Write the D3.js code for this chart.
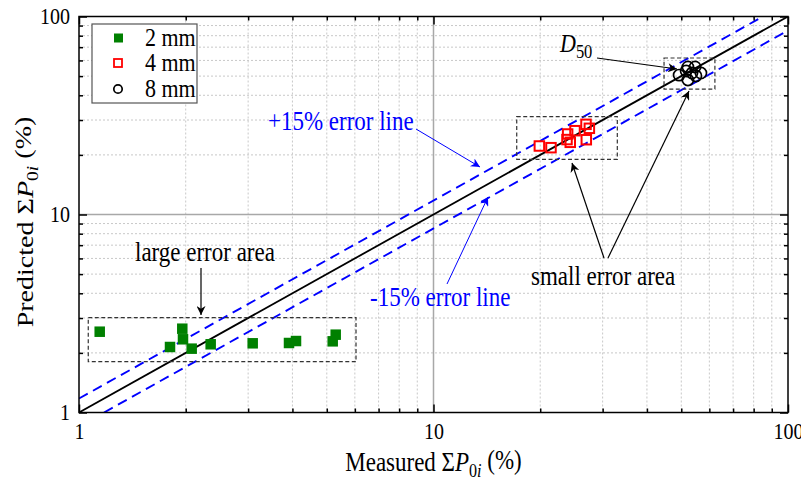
<!DOCTYPE html>
<html><head><meta charset="utf-8">
<script src="https://cdn.jsdelivr.net/npm/d3@7"></script>
<style>body{margin:0;background:#fff}svg{display:block}text{font-family:"Liberation Serif","Times New Roman",serif}</style>
</head><body>
<svg id="c" width="801" height="480"></svg>
<script>
// ---- data ----
const mm2X = [1.144, 1.956, 1.965, 1.806, 2.079, 2.352, 3.09, 3.912, 4.094, 5.196, 5.298];
const mm2Y = [2.559, 2.650, 2.343, 2.142, 2.101, 2.211, 2.236, 2.244, 2.296, 2.288, 2.472];
const mm4X = [19.89, 21.45, 23.9, 25.07, 24.31, 23.8, 26.93, 27.52, 26.98];
const mm4Y = [22.18, 21.75, 25.5, 26.5, 23.15, 23.9, 28.54, 27.25, 23.86];
const mm8X = [49.3, 51.6, 52.2, 52.2, 54.7, 55.0, 56.8, 53.6];
const mm8Y = [50.6, 53.1, 47.8, 55.6, 55.6, 50.1, 51.8, 51.8];
const majorTicks = [1, 10, 100];
const minorTicks = [2,3,4,5,6,7,8,9,20,30,40,50,60,70,80,90];
const errUpper = 1/0.85, errLower = 0.85;
const boxes = [ // [x0,x1,y0,y1]
  [1.062, 6.045, 1.805, 3.012],
  [17.17, 33.0, 19.0, 31.19],
  [44.7, 62.2, 43.0, 61.7]
];
const legendLabels = ["2 mm", "4 mm", "8 mm"];

const svg = d3.select("#c");
const L = 79, R = 788, T = 16.5, B = 412.5;
const ST = 1.15; // vertical stretch of glyphs as seen in the reference
const x = d3.scaleLog().domain([1,100]).range([L,R]);
const y = d3.scaleLog().domain([1,100]).range([B,T]);

const defs = svg.append("defs");
defs.append("clipPath").attr("id","clip").append("rect").attr("x",L).attr("y",T).attr("width",R-L).attr("height",B-T);
function mk(id,color){
  defs.append("marker").attr("id",id).attr("viewBox","0 0 10 10").attr("refX",10).attr("refY",5)
    .attr("markerWidth",14).attr("markerHeight",9).attr("markerUnits","userSpaceOnUse").attr("orient","auto")
    .append("path").attr("d","M0,0 L10,5 L0,10 L3,5 Z").attr("fill",color);
}
mk("ab","#000"); mk("abl","#0000ff");

function txt(px, py, size, color){
  return svg.append("text").attr("transform",`translate(${px},${py}) scale(1,${ST})`).attr("font-size",size).attr("fill",color||"#000");
}

// grid
const g = svg.append("g");
minorTicks.forEach(v=>{
  g.append("line").attr("x1",x(v)).attr("x2",x(v)).attr("y1",T).attr("y2",B).attr("stroke","#c8c8c8").attr("stroke-width",1).attr("stroke-dasharray","2,2");
  g.append("line").attr("y1",y(v)).attr("y2",y(v)).attr("x1",L).attr("x2",R).attr("stroke","#c8c8c8").attr("stroke-width",1).attr("stroke-dasharray","2,2");
});
g.append("line").attr("x1",x(10)).attr("x2",x(10)).attr("y1",T).attr("y2",B).attr("stroke","#a8a8a8").attr("stroke-width",1.5);
g.append("line").attr("y1",y(10)).attr("y2",y(10)).attr("x1",L).attr("x2",R).attr("stroke","#a8a8a8").attr("stroke-width",1.5);

// lines
const lg = svg.append("g").attr("clip-path","url(#clip)");
const line = d3.line().x(d=>x(d[0])).y(d=>y(d[1]));
lg.append("path").attr("d",line([[1,1],[100,100]])).attr("stroke","#000").attr("stroke-width",1.8).attr("fill","none");
lg.append("path").attr("d",line([[1,errUpper],[100/errUpper,100]])).attr("stroke","#0000ff").attr("stroke-width",1.9).attr("fill","none").attr("stroke-dasharray","10,6");
lg.append("path").attr("d",line([[1/errLower,1],[100,100*errLower]])).attr("stroke","#0000ff").attr("stroke-width",1.9).attr("fill","none").attr("stroke-dasharray","10,6");

// boxes
boxes.forEach(b=>{
  svg.append("rect").attr("x",x(b[0])).attr("y",y(b[3])).attr("width",x(b[1])-x(b[0])).attr("height",y(b[2])-y(b[3]))
    .attr("fill","none").attr("stroke","#333").attr("stroke-width",1.2).attr("stroke-dasharray","4,2.5");
});

// points
const s2 = 10.5, s4 = 9.5;
svg.append("g").selectAll("rect").data(mm2X).join("rect")
  .attr("x",(d,i)=>x(d)-s2/2).attr("y",(d,i)=>y(mm2Y[i])-s2/2).attr("width",s2).attr("height",s2).attr("fill","#008000");
svg.append("g").selectAll("rect").data(mm4X).join("rect")
  .attr("x",(d,i)=>x(d)-s4/2).attr("y",(d,i)=>y(mm4Y[i])-s4/2).attr("width",s4).attr("height",s4).attr("fill","none").attr("stroke","#ff0000").attr("stroke-width",2);
svg.append("g").selectAll("circle").data(mm8X).join("circle")
  .attr("cx",d=>x(d)).attr("cy",(d,i)=>y(mm8Y[i])).attr("r",5.6).attr("fill","none").attr("stroke","#000").attr("stroke-width",1.7);

// axes
function ax(axisFn, scale, vals, size, labels, tr){
  const a = axisFn(scale).tickValues(vals).tickSizeInner(-size).tickSizeOuter(0).tickPadding(labels?9:0)
    .tickFormat(labels? d3.format("d") : "");
  const gg = svg.append("g").attr("transform",tr).call(a);
  gg.select(".domain").remove();
  gg.selectAll("line").attr("stroke","#000").attr("stroke-width",1.5);
  gg.selectAll("text").attr("font-size",20).attr("fill","#000").attr("transform",`scale(1,${ST})`)
    .style("font-family","'Liberation Serif','Times New Roman',serif");
  return gg;
}
ax(d3.axisBottom, x, majorTicks, 8, true, `translate(0,${B})`);
ax(d3.axisBottom, x, minorTicks, 4, false, `translate(0,${B})`);
ax(d3.axisTop, x, majorTicks, 8, false, `translate(0,${T})`);
ax(d3.axisTop, x, minorTicks, 4, false, `translate(0,${T})`);
ax(d3.axisLeft, y, majorTicks, 8, true, `translate(${L},0)`);
ax(d3.axisLeft, y, minorTicks, 4, false, `translate(${L},0)`);
ax(d3.axisRight, y, majorTicks, 8, false, `translate(${R},0)`);
ax(d3.axisRight, y, minorTicks, 4, false, `translate(${R},0)`);
svg.append("rect").attr("x",L).attr("y",T).attr("width",R-L).attr("height",B-T).attr("fill","none").attr("stroke","#000").attr("stroke-width",1.5);

// axis titles
function title(sel, main){
  sel.append("tspan").text(main+" \u03A3");
  sel.append("tspan").attr("font-style","italic").text("P");
  sel.append("tspan").attr("font-size","0.7em").attr("dy","0.3em").text("0");
  sel.append("tspan").attr("font-size","0.7em").attr("font-style","italic").text("i");
  sel.append("tspan").attr("dy","-0.3em").text(" (%)");
}
title(txt((L+R)/2, 471, 23).attr("text-anchor","middle"), "Measured");
title(svg.append("text").attr("transform",`translate(33,222) rotate(-90) scale(1.22,1)`).attr("text-anchor","middle").attr("font-size",23), "Predicted");

// legend
const lgG = svg.append("g");
lgG.append("rect").attr("x",92).attr("y",24).attr("width",105).attr("height",79).attr("fill","#fff").attr("stroke","#555").attr("stroke-width",1.2);
const ly = [38, 63, 89];
lgG.append("rect").attr("x",114).attr("y",ly[0]-4.5).attr("width",9).attr("height",9).attr("fill","#008000");
lgG.append("rect").attr("x",114).attr("y",ly[1]-4).attr("width",8).attr("height",8).attr("fill","none").attr("stroke","#ff0000").attr("stroke-width",1.8);
lgG.append("circle").attr("cx",118).attr("cy",ly[2]).attr("r",4.2).attr("fill","none").attr("stroke","#000").attr("stroke-width",1.7);
legendLabels.forEach((t,i)=>txt(145, ly[i]+7.5, 22).text(t));

// annotations
txt(268, 130, 23, "#0000ff").text("+15% error line");
svg.append("line").attr("x1",416).attr("y1",129).attr("x2",480).attr("y2",167).attr("stroke","#0000ff").attr("stroke-width",1).attr("marker-end","url(#abl)");
txt(370, 306, 23, "#0000ff").text("-15% error line");
svg.append("line").attr("x1",447).attr("y1",284).attr("x2",488).attr("y2",197).attr("stroke","#0000ff").attr("stroke-width",1).attr("marker-end","url(#abl)");
txt(135, 261, 23).text("large error area");
svg.append("line").attr("x1",201).attr("y1",268).attr("x2",201).attr("y2",315).attr("stroke","#000").attr("stroke-width",1.2).attr("marker-end","url(#ab)");
txt(531, 285, 23).text("small error area");
svg.append("line").attr("x1",604).attr("y1",258).attr("x2",572).attr("y2",163).attr("stroke","#000").attr("stroke-width",1.2).attr("marker-end","url(#ab)");
svg.append("line").attr("x1",608).attr("y1",258).attr("x2",689).attr("y2",91).attr("stroke","#000").attr("stroke-width",1.2).attr("marker-end","url(#ab)");
const dt = txt(560, 52, 22);
dt.append("tspan").attr("font-style","italic").text("D");
dt.append("tspan").attr("font-size","0.75em").attr("dy","0.3em").text("50");
svg.append("line").attr("x1",597).attr("y1",58).attr("x2",677).attr("y2",69).attr("stroke","#000").attr("stroke-width",1.2).attr("marker-end","url(#ab)");
</script>
</body></html>
